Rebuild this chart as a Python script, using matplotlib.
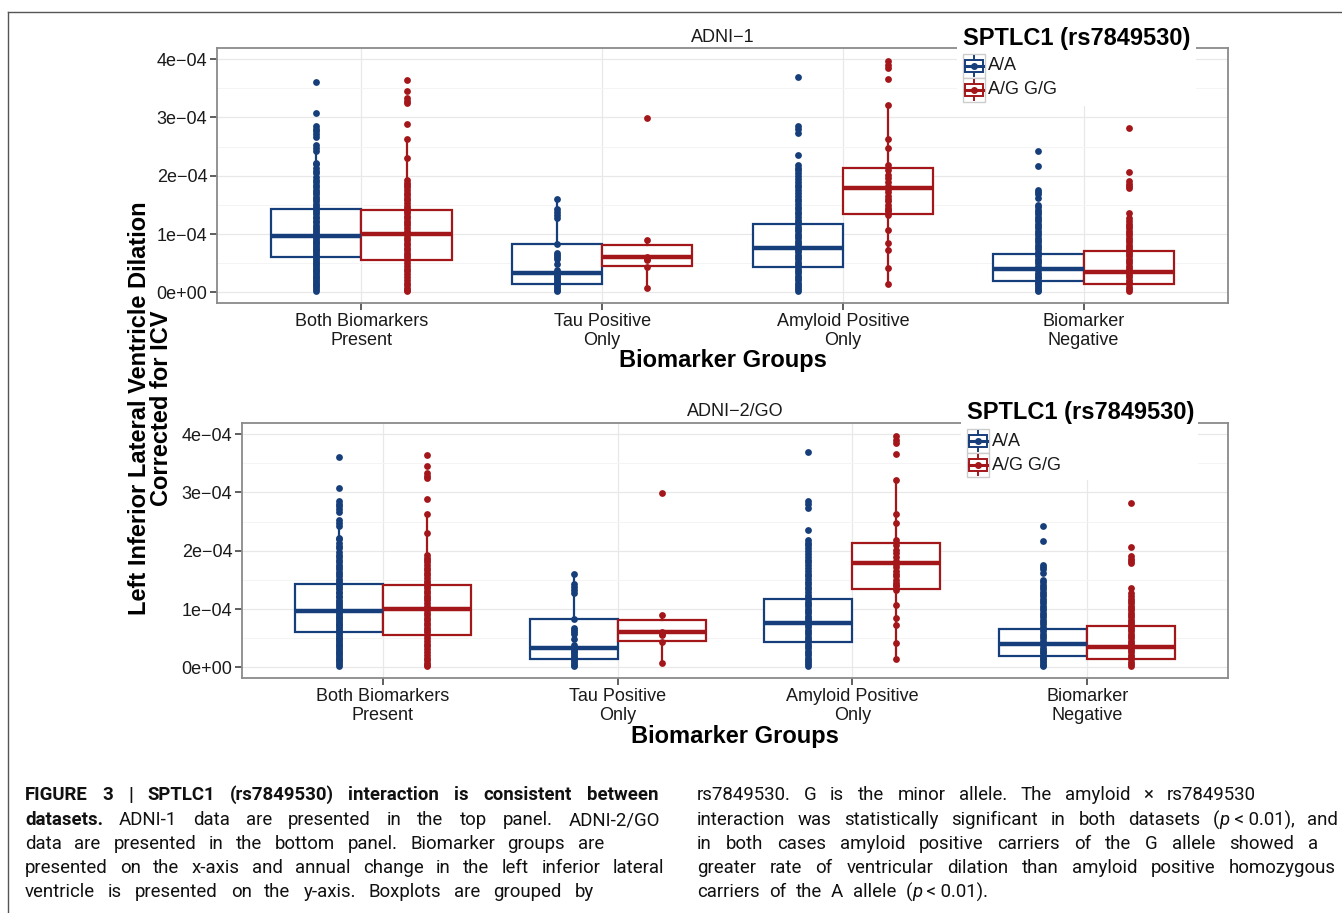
import matplotlib
matplotlib.use("Agg")
import matplotlib.pyplot as plt
from matplotlib.patches import Rectangle
from matplotlib.lines import Line2D

plt.rcParams['font.family'] = ['Liberation Sans', 'DejaVu Sans']

W, H = 1342, 913
SCALE = 1e-4   # all values below are in units of 1e-04

groups = ["Both Biomarkers\nPresent", "Tau Positive\nOnly",
          "Amyloid Positive\nOnly", "Biomarker\nNegative"]
genotypes = ["A/A", "A/G G/G"]
colors = ["#163e7a", "#a3171b"]

y_ticks = [0, 1, 2, 3, 4]
y_ticklabels = ["0e+00", "1e\u221204", "2e\u221204", "3e\u221204", "4e\u221204"]

# box statistics per biomarker group (A/A)
aa_q1 = [0.61, 0.15, 0.43, 0.20]
aa_med = [0.97, 0.34, 0.76, 0.41]
aa_q3 = [1.43, 0.83, 1.18, 0.66]
aa_lo = [0.03, 0.02, 0.02, 0.02]
aa_hi = [2.53, 1.61, 2.19, 1.34]

# box statistics per biomarker group (A/G G/G)
ag_q1 = [0.55, 0.46, 1.34, 0.15]
ag_med = [1.00, 0.60, 1.79, 0.35]
ag_q3 = [1.41, 0.82, 2.14, 0.71]
ag_lo = [0.03, 0.07, 0.15, 0.02]
ag_hi = [2.63, 0.90, 3.21, 1.36]

# individual observations (A/A)
aa_both = [3.60, 3.07, 2.86, 2.80, 2.76, 2.72, 2.67, 2.53, 2.47, 2.42, 2.22, 2.20,
           2.13, 2.08, 2.04, 1.98, 1.93, 1.90, 1.85, 1.80, 1.76, 1.72, 1.68, 1.64,
           1.60, 1.56, 1.52, 1.48, 1.45, 1.41, 1.38, 1.34, 1.30, 1.27, 1.23, 1.20,
           1.16, 1.12, 1.09, 1.05, 1.02, 0.99, 0.96, 0.93, 0.90, 0.87, 0.84, 0.81,
           0.78, 0.75, 0.72, 0.69, 0.66, 0.63, 0.60, 0.57, 0.54, 0.51, 0.48, 0.45,
           0.42, 0.39, 0.36, 0.33, 0.30, 0.27, 0.24, 0.21, 0.18, 0.15, 0.12, 0.09,
           0.06, 0.03]
aa_tau = [1.61, 1.43, 1.38, 1.33, 1.28, 0.83, 0.67, 0.64, 0.61, 0.58, 0.49, 0.38,
          0.35, 0.32, 0.29, 0.26, 0.23, 0.20, 0.17, 0.14, 0.11, 0.08, 0.05, 0.02]
aa_amy = [3.70, 2.85, 2.80, 2.73, 2.35, 2.19, 2.14, 2.10, 2.05, 2.00, 1.95, 1.90,
          1.84, 1.80, 1.75, 1.70, 1.66, 1.61, 1.56, 1.52, 1.47, 1.43, 1.38, 1.34,
          1.29, 1.25, 1.21, 1.17, 1.13, 1.09, 1.05, 1.01, 0.97, 0.93, 0.89, 0.85,
          0.81, 0.77, 0.73, 0.69, 0.65, 0.61, 0.57, 0.53, 0.49, 0.45, 0.41, 0.37,
          0.33, 0.29, 0.25, 0.21, 0.17, 0.13, 0.10, 0.06, 0.02]
aa_neg = [2.42, 2.17, 1.76, 1.72, 1.68, 1.62, 1.50, 1.46, 1.42, 1.38, 1.34, 1.30,
          1.26, 1.22, 1.18, 1.14, 1.10, 1.06, 1.02, 0.98, 0.94, 0.90, 0.86, 0.82,
          0.78, 0.74, 0.70, 0.66, 0.62, 0.58, 0.54, 0.50, 0.46, 0.42, 0.38, 0.34,
          0.30, 0.27, 0.24, 0.20, 0.17, 0.14, 0.11, 0.08, 0.05, 0.02]

# individual observations (A/G G/G)
ag_both = [3.65, 3.46, 3.33, 3.29, 3.24, 2.89, 2.63, 2.31, 1.93, 1.88, 1.84, 1.80,
           1.76, 1.71, 1.67, 1.62, 1.58, 1.53, 1.48, 1.44, 1.40, 1.36, 1.31, 1.27,
           1.23, 1.19, 1.15, 1.10, 1.06, 1.02, 0.98, 0.94, 0.90, 0.85, 0.81, 0.77,
           0.73, 0.68, 0.64, 0.60, 0.55, 0.50, 0.46, 0.41, 0.36, 0.31, 0.26, 0.21,
           0.16, 0.12, 0.08, 0.05, 0.03]
ag_tau = [2.99, 0.90, 0.61, 0.58, 0.56, 0.44, 0.07]
ag_amy = [3.96, 3.90, 3.85, 3.66, 3.21, 2.63, 2.47, 2.19, 2.10, 2.02, 1.96, 1.90,
          1.82, 1.78, 1.73, 1.65, 1.60, 1.56, 1.50, 1.45, 1.42, 1.39, 1.33, 1.07,
          0.85, 0.73, 0.42, 0.15]
ag_neg = [2.82, 2.06, 1.91, 1.86, 1.83, 1.79, 1.36, 1.27, 1.22, 1.18, 1.14, 1.10,
          1.06, 1.02, 0.98, 0.94, 0.90, 0.86, 0.82, 0.78, 0.74, 0.70, 0.66, 0.62,
          0.58, 0.54, 0.50, 0.46, 0.42, 0.38, 0.34, 0.30, 0.26, 0.22, 0.18, 0.14,
          0.10, 0.06, 0.02]

aa_points = [aa_both, aa_tau, aa_amy, aa_neg]
ag_points = [ag_both, ag_tau, ag_amy, ag_neg]

caption_left = [
    "^FIGURE ^3 ^| ^SPTLC1 ^(rs7849530) ^interaction ^is ^consistent ^between",
    "^datasets. ADNI-1 data are presented in the top panel. ADNI-2/GO",
    "data are presented in the bottom panel. Biomarker groups are",
    "presented on the x-axis and annual change in the left inferior lateral",
    "ventricle is presented on the y-axis. Boxplots are grouped by",
]
caption_left_ends = [658, 660, 604, 664, 594]
caption_right = [
    "rs7849530. G is the minor allele. The amyloid \u00d7 rs7849530",
    "interaction was statistically significant in both datasets (_p_~<~0.01), and",
    "in both cases amyloid positive carriers of the G allele showed a",
    "greater rate of ventricular dilation than amyloid positive homozygous",
    "carriers of the A allele (_p_~<~0.01).",
]
caption_right_ends = [1256, 1338, 1318, 1336, 988]
caption_rows = [795, 820, 844, 868, 892]


def fx(px):
    return px / W


def fy(py):
    return 1 - py / H


fig = plt.figure(figsize=(W / 100, H / 100), dpi=100)
fig.patch.set_facecolor("white")

# page frame
fig.add_artist(Line2D([fx(8), fx(W)], [fy(12), fy(12)], transform=fig.transFigure,
                      color="#555555", lw=1.0))
fig.add_artist(Line2D([fx(8), fx(8)], [fy(12), fy(H)], transform=fig.transFigure,
                      color="#555555", lw=1.0))


def draw_panel(left, top, right, bottom, title):
    ax = fig.add_axes([fx(left), fy(bottom), (right - left) / W, (bottom - top) / H])

    box_sets = [(aa_q1, aa_med, aa_q3, aa_lo, aa_hi, aa_points),
                (ag_q1, ag_med, ag_q3, ag_lo, ag_hi, ag_points)]
    for k, (q1, med, q3, lo, hi, pts) in enumerate(box_sets):
        c = colors[k]
        offset = -0.1875 if k == 0 else 0.1875
        pos = [i + 1 + offset for i in range(len(groups))]
        stats = [dict(q1=q1[i] * SCALE, med=med[i] * SCALE, q3=q3[i] * SCALE,
                      whislo=lo[i] * SCALE, whishi=hi[i] * SCALE)
                 for i in range(len(groups))]
        ax.bxp(stats, positions=pos, widths=0.375, patch_artist=True,
               showfliers=False, showcaps=False, manage_ticks=False,
               boxprops=dict(facecolor="white", edgecolor=c, lw=1.6),
               medianprops=dict(color=c, lw=3.2, solid_capstyle="butt"),
               whiskerprops=dict(color=c, lw=1.6), zorder=2)
        for i in range(len(groups)):
            ax.scatter([pos[i]] * len(pts[i]), [v * SCALE for v in pts[i]],
                       s=24, color=c, linewidths=0, zorder=3)

    ax.set_xlim(0.4, 4.6)
    ax.set_ylim(-0.18 * SCALE, 4.19 * SCALE)
    ax.set_axisbelow(True)
    ax.set_yticks([v * SCALE for v in y_ticks])
    ax.set_yticklabels(y_ticklabels)
    ax.set_yticks([v * SCALE for v in [0.5, 1.5, 2.5, 3.5]], minor=True)
    ax.set_xticks([1, 2, 3, 4])
    ax.set_xticklabels(groups, linespacing=1.2)
    ax.grid(which="major", color="#e8e8e8", lw=0.9)
    ax.grid(which="minor", axis="y", color="#f4f4f4", lw=0.7)
    ax.tick_params(which="major", length=5, width=1.1, color="#333333",
                   labelsize=13, labelcolor="#1a1a1a", pad=2)
    ax.tick_params(which="minor", length=0)
    for s in ax.spines.values():
        s.set_color("#8a8a8a")
        s.set_linewidth(1.3)

    cx = (left + right) / 2
    fig.text(fx(cx), fy(top - 11), title, ha="center", va="center",
             fontsize=13, color="#1a1a1a")
    fig.text(fx(cx), fy(bottom + 58), "Biomarker Groups", ha="center", va="center",
             fontsize=17, fontweight="bold", color="black")
    return ax


def draw_legend(x0, x1, y0, y1, tx, ty):
    fig.add_artist(Rectangle((fx(x0), fy(y1)), (x1 - x0) / W, (y1 - y0) / H,
                             transform=fig.transFigure, facecolor="white",
                             edgecolor="none", zorder=5))
    fig.text(fx(tx), fy(ty), "SPTLC1 (rs7849530)", ha="left", va="center",
             fontsize=17, fontweight="bold", zorder=6)
    for k, lab in enumerate(genotypes):
        kx = tx + 11
        ky = ty + 28 + k * 24
        c = colors[k]
        fig.add_artist(Rectangle((fx(kx - 11), fy(ky + 12)), 22 / W, 24 / H,
                                 transform=fig.transFigure, facecolor="white",
                                 edgecolor="#cccccc", lw=1.0, zorder=6))
        fig.add_artist(Line2D([fx(kx), fx(kx)], [fy(ky - 10), fy(ky + 10)],
                              transform=fig.transFigure, color=c, lw=1.4, zorder=7))
        fig.add_artist(Rectangle((fx(kx - 9), fy(ky + 6)), 18 / W, 12 / H,
                                 transform=fig.transFigure, facecolor="white",
                                 edgecolor=c, lw=1.4, zorder=7))
        fig.add_artist(Line2D([fx(kx - 9), fx(kx + 9)], [fy(ky), fy(ky)],
                              transform=fig.transFigure, color=c, lw=2.2, zorder=8))
        fig.add_artist(Line2D([fx(kx)], [fy(ky)], transform=fig.transFigure,
                              marker="o", ms=4, color=c, lw=0, zorder=9))
        fig.text(fx(kx + 14), fy(ky), lab, ha="left", va="center", fontsize=13,
                 color="#1a1a1a", zorder=6)


draw_panel(217, 48, 1228, 303, "ADNI\u22121")
draw_panel(242, 423, 1228, 678, "ADNI\u22122/GO")
draw_legend(957, 1196, 26, 106, 963, 38)
draw_legend(961, 1198, 400, 480, 967, 413)

# shared y label, one text per line
fig.text(fx(140), fy(408), "Left Inferior Lateral Ventricle Dilation",
         rotation=90, ha="center", va="center", fontsize=17, fontweight="bold")
fig.text(fx(162), fy(408), "Corrected for ICV",
         rotation=90, ha="center", va="center", fontsize=17, fontweight="bold")

# caption, justified word by word
CAP_FONT = ["Roboto", "DejaVu Sans"]
CAP_FS = 13.4
renderer = fig.canvas.get_renderer()


def parse_word(w):
    bold = w.startswith("^")
    if bold:
        w = w[1:]
    w = w.replace("~", " ")
    parts = w.split("_")
    return [(p, "bold" if bold else "normal", "italic" if i % 2 else "normal")
            for i, p in enumerate(parts) if p]


def justify(line, x0, x1, y):
    words = []
    for w in line.split(" "):
        segs = []
        total = 0
        for s, wt, st in parse_word(w):
            t = fig.text(0, fy(y), s, fontsize=CAP_FS, fontweight=wt, fontstyle=st,
                         family=CAP_FONT, ha="left", va="center", color="#111111")
            width = t.get_window_extent(renderer).width
            segs.append((t, width))
            total += width
        words.append((segs, total))
    used = sum(t for _, t in words)
    gap = (x1 - x0 - used) / max(len(words) - 1, 1)
    x = x0
    for segs, total in words:
        xx = x
        for t, width in segs:
            t.set_x(fx(xx))
            xx += width
        x += total + gap


for line, end, y in zip(caption_left, caption_left_ends, caption_rows):
    justify(line, 25, end, y)
for line, end, y in zip(caption_right, caption_right_ends, caption_rows):
    justify(line, 697, end, y)

fig.savefig("out.png", dpi=100)
